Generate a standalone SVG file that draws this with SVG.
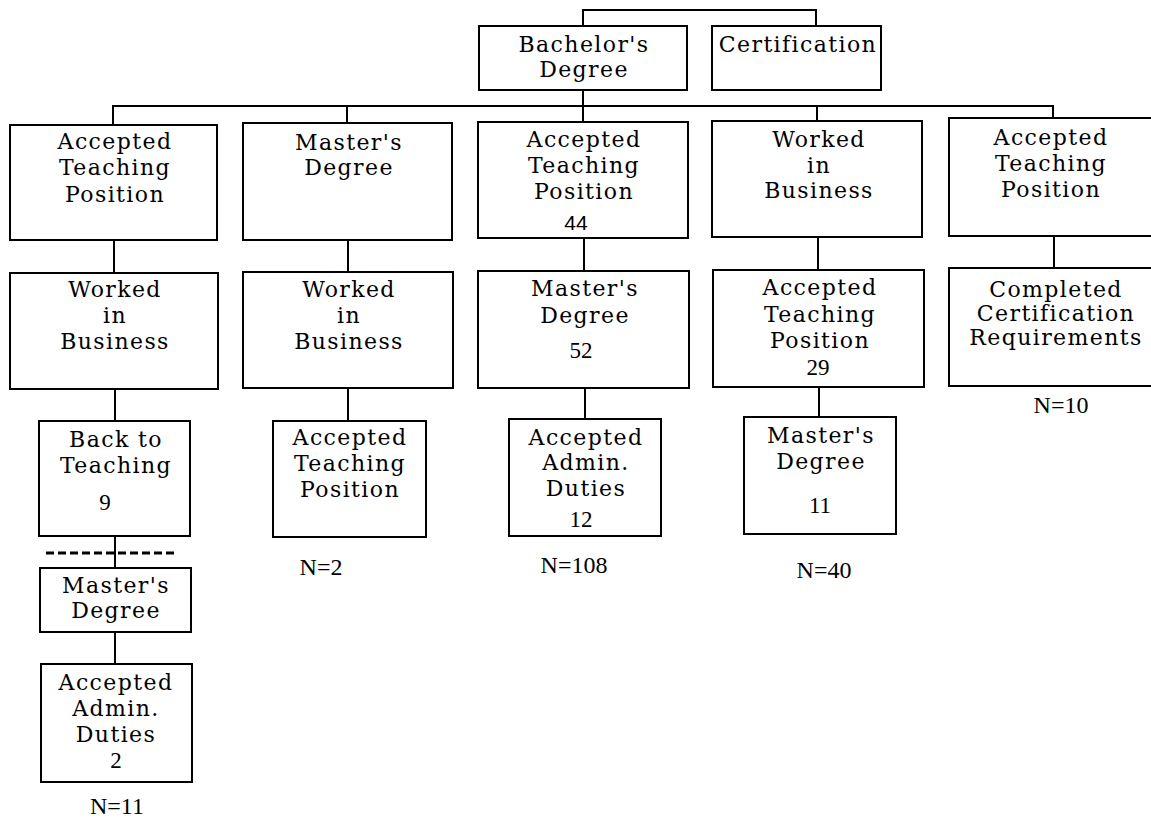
<svg xmlns="http://www.w3.org/2000/svg" width="1151" height="818" viewBox="0 0 1151 818">
  <style>
    .box { fill: #fff; stroke: #000; stroke-width: 2; }
    .wire { fill: none; stroke: #000; stroke-width: 2; }
    .dash { fill: none; stroke: #000; stroke-width: 3; stroke-dasharray: 8 4; }
    .t { font-family: "DejaVu Serif", "Liberation Serif", serif; font-size: 22px; letter-spacing: 1.4px; text-anchor: middle; fill: #000; }
    .num { font-family: "Liberation Serif", serif; font-size: 23px; text-anchor: middle; fill: #000; }
    .nsans { font-family: "Liberation Sans", sans-serif; font-size: 21px; text-anchor: middle; fill: #000; }
    .cnt { font-family: "Liberation Serif", serif; font-size: 24px; text-anchor: middle; fill: #000; }
  </style>
  <rect width="1151" height="818" fill="#fff"/>

  <g id="connectors">
    <polyline class="wire" points="583,26 583,10 816,10 816,26"/>
    <line class="wire" x1="583" y1="90" x2="583" y2="122"/>
    <line class="wire" x1="113" y1="106" x2="1054" y2="106"/>
    <line class="wire" x1="113" y1="105" x2="113" y2="125"/>
    <line class="wire" x1="347" y1="105" x2="347" y2="123"/>
    <line class="wire" x1="817" y1="105" x2="817" y2="121"/>
    <line class="wire" x1="1053" y1="105" x2="1053" y2="118"/>
    <line class="wire" x1="114" y1="240" x2="114" y2="273"/>
    <line class="wire" x1="115" y1="389" x2="115" y2="421"/>
    <line class="wire" x1="115" y1="536" x2="115" y2="568"/>
    <line class="dash" x1="46" y1="553" x2="176" y2="553"/>
    <line class="wire" x1="115" y1="632" x2="115" y2="664"/>
    <line class="wire" x1="348" y1="240" x2="348" y2="272"/>
    <line class="wire" x1="348" y1="388" x2="348" y2="421"/>
    <line class="wire" x1="584" y1="238" x2="584" y2="271"/>
    <line class="wire" x1="585" y1="388" x2="585" y2="419"/>
    <line class="wire" x1="818" y1="237" x2="818" y2="270"/>
    <line class="wire" x1="819" y1="387" x2="819" y2="417"/>
    <line class="wire" x1="1054" y1="236" x2="1054" y2="268"/>
  </g>

  <g id="bachelor">
    <rect class="box" x="479" y="26" width="208" height="64"/>
    <text class="t" x="584" y="52">Bachelor's</text>
    <text class="t" x="584" y="77">Degree</text>
  </g>
  <g id="certification">
    <rect class="box" x="712" y="26" width="169" height="64"/>
    <text class="t" x="798" y="52">Certification</text>
  </g>

  <!-- column 1 -->
  <g id="c1-teach">
    <rect class="box" x="10" y="125" width="207" height="115"/>
    <text class="t" x="115" y="149">Accepted</text>
    <text class="t" x="115" y="175">Teaching</text>
    <text class="t" x="115" y="202">Position</text>
  </g>
  <g id="c1-business">
    <rect class="box" x="10" y="273" width="208" height="116"/>
    <text class="t" x="115" y="297">Worked</text>
    <text class="t" x="115" y="323">in</text>
    <text class="t" x="115" y="349">Business</text>
  </g>
  <g id="c1-back">
    <rect class="box" x="39" y="421" width="151" height="115"/>
    <text class="t" x="116" y="447">Back to</text>
    <text class="t" x="116" y="473">Teaching</text>
    <text class="num" x="105" y="510">9</text>
  </g>
  <g id="c1-master">
    <rect class="box" x="40" y="568" width="151" height="64"/>
    <text class="t" x="116" y="593">Master's</text>
    <text class="t" x="116" y="618">Degree</text>
  </g>
  <g id="c1-admin">
    <rect class="box" x="41" y="664" width="151" height="118"/>
    <text class="t" x="116" y="690">Accepted</text>
    <text class="t" x="116" y="716">Admin.</text>
    <text class="t" x="116" y="742">Duties</text>
    <text class="num" x="116" y="768">2</text>
  </g>
  <text class="cnt" x="117" y="814">N=11</text>

  <!-- column 2 -->
  <g id="c2-master">
    <rect class="box" x="243" y="123" width="209" height="117"/>
    <text class="t" x="349" y="150">Master's</text>
    <text class="t" x="349" y="175">Degree</text>
  </g>
  <g id="c2-business">
    <rect class="box" x="243" y="272" width="210" height="116"/>
    <text class="t" x="349" y="297">Worked</text>
    <text class="t" x="349" y="323">in</text>
    <text class="t" x="349" y="349">Business</text>
  </g>
  <g id="c2-teach">
    <rect class="box" x="273" y="421" width="153" height="116"/>
    <text class="t" x="350" y="445">Accepted</text>
    <text class="t" x="350" y="471">Teaching</text>
    <text class="t" x="350" y="497">Position</text>
  </g>
  <text class="cnt" x="321" y="575">N=2</text>

  <!-- column 3 -->
  <g id="c3-teach">
    <rect class="box" x="478" y="122" width="210" height="116"/>
    <text class="t" x="584" y="147">Accepted</text>
    <text class="t" x="584" y="173">Teaching</text>
    <text class="t" x="584" y="199">Position</text>
    <text class="nsans" x="576" y="230">44</text>
  </g>
  <g id="c3-master">
    <rect class="box" x="478" y="271" width="211" height="117"/>
    <text class="t" x="585" y="296">Master's</text>
    <text class="t" x="585" y="323">Degree</text>
    <text class="num" x="581" y="358">52</text>
  </g>
  <g id="c3-admin">
    <rect class="box" x="509" y="419" width="152" height="117"/>
    <text class="t" x="586" y="445">Accepted</text>
    <text class="t" x="586" y="470">Admin.</text>
    <text class="t" x="586" y="496">Duties</text>
    <text class="num" x="581" y="527">12</text>
  </g>
  <text class="cnt" x="574" y="573">N=108</text>

  <!-- column 4 -->
  <g id="c4-business">
    <rect class="box" x="712" y="121" width="210" height="116"/>
    <text class="t" x="819" y="147">Worked</text>
    <text class="t" x="819" y="173">in</text>
    <text class="t" x="819" y="198">Business</text>
  </g>
  <g id="c4-teach">
    <rect class="box" x="713" y="270" width="211" height="117"/>
    <text class="t" x="820" y="295">Accepted</text>
    <text class="t" x="820" y="322">Teaching</text>
    <text class="t" x="820" y="348">Position</text>
    <text class="num" x="818" y="375">29</text>
  </g>
  <g id="c4-master">
    <rect class="box" x="744" y="417" width="152" height="117"/>
    <text class="t" x="821" y="443">Master's</text>
    <text class="t" x="821" y="469">Degree</text>
    <text class="num" x="820" y="513">11</text>
  </g>
  <text class="cnt" x="824" y="578">N=40</text>

  <!-- column 5 -->
  <g id="c5-teach">
    <rect class="box" x="949" y="118" width="210" height="118"/>
    <text class="t" x="1051" y="145">Accepted</text>
    <text class="t" x="1051" y="171">Teaching</text>
    <text class="t" x="1051" y="197">Position</text>
  </g>
  <g id="c5-cert">
    <rect class="box" x="949" y="268" width="210" height="118"/>
    <text class="t" x="1056" y="297">Completed</text>
    <text class="t" x="1056" y="321">Certification</text>
    <text class="t" x="1056" y="345">Requirements</text>
  </g>
  <text class="cnt" x="1061" y="413">N=10</text>
</svg>
